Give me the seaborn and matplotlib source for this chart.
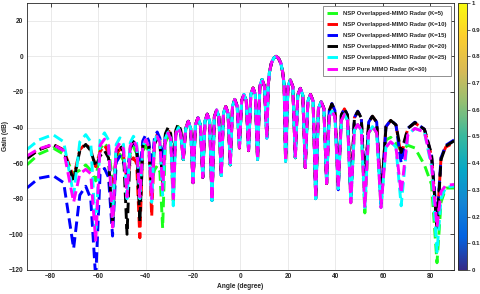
import numpy as np
import pandas as pd
import matplotlib
matplotlib.use("Agg")
import matplotlib.pyplot as plt
import matplotlib as mpl
from matplotlib.colors import LinearSegmentedColormap
import seaborn as sns

# ---------------- data ----------------
labels = ["NSP Overlapped-MIMO Radar (K=5)",
          "NSP Overlapped-MIMO Radar (K=10)",
          "NSP Overlapped-MIMO Radar (K=15)",
          "NSP Overlapped-MIMO Radar (K=20)",
          "NSP Overlapped-MIMO Radar (K=25)",
          "NSP Pure MIMO Radar (K=30)"]
colors = ["#1aff1a", "#ff0000", "#0000ff", "#000000", "#00ffff", "#ff00ff"]

# far-left part (angles shared by all series)
left_deg = [-90, -85, -79, -74.5, -70.3, -67.7, -65.2, -63.1, -61.0, -59.15, -57.3, -55.6,
            -53.9, -52.35, -50.8, -49.3, -47.8, -46.45, -45.1, -43.75, -42.4, -41.15, -39.9,
            -38.65, -37.4, -36.25, -35.1, -33.95, -32.8, -31.65, -30.5, -29.4, -28.3, -27.25,
            -26.2, -25.15]
green_left = [-61, -55, -51.5, -55, -66, -64, -61, -64, -70, -52, -48.6, -52, -70, -58.5, -55,
              -58.5, -65, -54.5, -51, -54.5, -60, -53.5, -50, -53.5, -70, -64, -61.5, -65, -96.5,
              -48.5, -45, -48.5, -84, -43, -39.5, -43]
red_left = [-57, -52.5, -49.5, -52.5, -68, -52.5, -49, -52.5, -62, -53.5, -50, -54, -75, -55.5,
            -52, -55.5, -70, -60, -57, -60, -102, -48.5, -45, -48.5, -90, -47.5, -44, -47.5, -72,
            -44.5, -41, -44.5, -70, -42.5, -39, -42.5]
blue_left = [-74, -68.5, -67, -71, -108, -78, -73, -80, -125, -66, -63, -68, -101, -59.5, -56,
             -59.5, -68, -51.5, -48, -51.5, -65, -47.5, -44, -47.5, -62, -46, -42.5, -46, -58,
             -45, -41.5, -45, -62, -44, -40.5, -44]
black_left = [-57.5, -52.5, -49.5, -53, -70, -53, -49.5, -53, -62, -56, -53, -57, -95, -53.5, -50,
              -53.5, -100, -51.5, -48, -51.5, -93, -50.5, -47, -50.5, -75, -49.5, -46, -49.5, -70,
              -43.5, -40, -43.5, -70, -41.5, -38, -41.5]
cyan_left = [-52.4, -47, -44, -48, -78, -48, -44, -48, -100, -47, -43, -47, -90, -49.5, -45.8,
             -49.5, -80, -48.5, -44.9, -48.5, -80, -50.5, -46.8, -50.5, -82, -48, -44, -48, -78,
             -46, -42.5, -46, -84, -43.5, -40, -43.5]
magenta_left = [-56, -52, -49.5, -53, -82, -66, -63.5, -66, -104, -50, -46.5, -50, -96, -52, -48.6,
                -52, -79, -50.5, -47, -50.5, -79, -50.5, -46.8, -50.5, -80, -48.5, -45, -48.5, -75,
                -46.5, -43, -46.5, -80, -43.5, -40, -43.5]

# central part, common to all series
center_deg = [-24.1, -23.05, -22.0, -21.0, -20.0, -18.95, -17.9, -16.9, -15.9, -14.95, -14.0,
              -13.0, -12.0, -11.0, -10.05, -9.1, -8.1, -7.15, -6.2, -5.25, -4.3, -3.35, -2.4,
              -1.4, -0.45, 0.5, 1.46, 2.45, 3.4, 4.35, 5.3, 6.25, 7.2, 8.15, 9.1, 10.1, 11.1,
              11.7, 12.2, 13.0, 14.0, 15.0, 16.0, 17.0, 17.8, 18.4, 19.0, 20.0, 21.0, 22.05,
              23.1, 24.15, 25.2, 26.25, 27.3, 28.4, 29.5, 30.6, 31.7, 32.85, 34.0, 35.15, 36.3]
center_db = [-58, -40.5, -36.5, -40.5, -71, -38.5, -34.5, -38.5, -68, -36.5, -32.5, -36.5, -81,
             -34, -30.2, -34, -67, -32, -28.2, -32, -61, -28, -24.2, -28, -51.5, -25, -21.4, -25,
             -53, -21.5, -17.8, -21.5, -58, -16.8, -13, -16.8, -46, -16, -9, -3.9, -1, 0, -1,
             -3.9, -9, -16, -59, -17, -13.3, -17, -57, -21.8, -18, -21.8, -62.5, -25.2, -21.4,
             -25.2, -80, -29.3, -25.5, -29.3, -71.5]

# far-right part (angles shared by all series)
right_deg = [37.4, 38.5, 39.8, 41.2, 42.5, 43.8, 45.1, 46.5, 48.0, 49.4, 50.9, 52.4, 54.0, 55.6,
             57.4, 59.2, 61.3, 63.3, 65.5, 67.7, 70.5, 73.5, 77.5, 80.5, 82.8, 84.5, 86.5, 90.0]
green_right = [-34, -30.8, -34, -74.4, -36, -32.7, -36, -82.3, -41.5, -38.3, -41.5, -88, -43, -40,
               -43, -85, -47, -45.5, -49, -53, -50, -51.5, -61, -72, -116, -82, -74, -74]
red_right = [-30.5, -26.8, -30.5, -73, -33, -29.5, -33, -78, -34.5, -31.2, -34.5, -75, -37, -33.8,
             -37, -80, -39.5, -36.2, -38.5, -56, -40.5, -37.5, -41, -56, -95, -57, -51, -48.5]
blue_right = [-30.5, -26.5, -30.5, -75, -33, -29.3, -33, -81, -34.5, -30.8, -34.5, -77, -37, -33.5,
              -37, -83, -39.5, -35.8, -38.5, -60, -40.5, -37, -41, -56, -92, -57, -50, -47]
black_right = [-30.5, -26.8, -30.5, -74, -33, -29.5, -33, -80, -34.5, -31, -34.5, -76, -37, -33.6,
               -37, -82, -39.5, -36, -38.5, -54, -40.5, -37.2, -41, -55, -97, -58, -50.5, -47.5]
cyan_right = [-34, -30.8, -34, -74.4, -36, -32.7, -36, -82.3, -41.5, -38.3, -41.5, -85, -43, -39.5,
              -43, -85, -51, -48, -51, -84, -44, -40.5, -42.5, -62, -110, -80, -73.5, -73]
magenta_right = [-34, -30.8, -34, -74.4, -36, -32.7, -36, -82.3, -41.5, -38.3, -41.5, -85, -43,
                 -39.5, -43, -85, -51, -48, -51, -77, -44, -40.5, -42.5, -60, -96, -76, -72.5, -72]

x_ticks = [-80, -60, -40, -20, 0, 20, 40, 60, 80]
y_ticks = [-120, -100, -80, -60, -40, -20, 0, 20]
cbar_ticks = [0, 0.1, 0.2, 0.3, 0.4, 0.5, 0.6, 0.7, 0.8, 0.9, 1]
cbar_labels = ["0", "0.1", "0.2", "0.3", "0.4", "0.5", "0.6", "0.7", "0.8", "0.9", "1"]

# ---------------- style ----------------
sns.set_theme(style="white")
plt.rcParams['font.family'] = ['Liberation Sans', 'DejaVu Sans']
plt.rcParams['font.weight'] = 'bold'
plt.rcParams['axes.labelweight'] = 'bold'

fig = plt.figure(figsize=(4.8, 2.94), dpi=100)
ax = fig.add_axes([0.056, 0.082, 0.890, 0.908])
cax = fig.add_axes([0.954, 0.082, 0.019, 0.908])

lefts = [green_left, red_left, blue_left, black_left, cyan_left, magenta_left]
rights = [green_right, red_right, blue_right, black_right, cyan_right, magenta_right]

frames = []
for lab, l, r in zip(labels, lefts, rights):
    assert len(l) == len(left_deg) and len(r) == len(right_deg)
    frames.append(pd.DataFrame({"angle": left_deg + center_deg + right_deg,
                                "gain": l + center_db + r,
                                "series": lab}))
assert len(center_deg) == len(center_db)
df = pd.concat(frames, ignore_index=True)

for lab, col in zip(labels, colors):
    sub = df[df["series"] == lab]
    sns.lineplot(data=sub, x="angle", y="gain", ax=ax, color=col, lw=2.1,
                 linestyle=(0, (3.6, 1.8)), sort=False, estimator=None, label=lab)

ax.set_xlim(-90, 90)
ax.set_ylim(-120, 30)
ax.set_xticks(x_ticks)
ax.set_yticks(y_ticks)
ax.grid(True, color="#e6e6e6", lw=0.6)
ax.set_axisbelow(True)
ax.tick_params(direction="in", top=True, right=True, labelsize=4.7, length=3,
               width=0.6, color="#262626", pad=2.5)
for s in ax.spines.values():
    s.set_color("#262626")
    s.set_linewidth(0.6)
ax.set_xlabel("Angle (degree)", fontsize=4.8, fontweight="bold", labelpad=2)
ax.set_ylabel("Gain (dB)", fontsize=4.8, fontweight="bold")
ax.yaxis.set_label_coords(-0.043, 0.5)

leg = ax.legend(loc="upper right", prop=dict(weight="bold", size=4.3), frameon=True,
                fancybox=False, edgecolor="#7f7f7f", framealpha=1, handlelength=1.8,
                handletextpad=0.8, borderpad=0.8, labelspacing=1.0, borderaxespad=0.5)
leg.get_frame().set_linewidth(0.6)

parula = LinearSegmentedColormap.from_list(
    "parula", ["#352a87", "#0363e1", "#1485d4", "#06a7c6", "#38b99e",
               "#92bf73", "#d9ba56", "#fcce2e", "#f9fb0e"])
sm = mpl.cm.ScalarMappable(norm=mpl.colors.Normalize(0, 1), cmap=parula)
cb = fig.colorbar(sm, cax=cax, ticks=cbar_ticks)
cb.ax.set_yticklabels(cbar_labels)
cb.ax.tick_params(labelsize=4.4, length=2, width=0.5, color="#262626", pad=1.5)
cb.outline.set_edgecolor("#262626")
cb.outline.set_linewidth(0.6)

fig.savefig("out.png", dpi=100)
